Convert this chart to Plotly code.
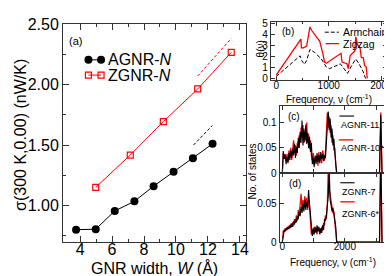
import plotly.graph_objects as go

# ---------------- Panel (a) data ----------------
agnr_w = [3.75, 4.98, 6.17, 7.40, 8.60, 9.85, 11.06, 12.29]
agnr_sigma = [0.800, 0.805, 0.955, 1.035, 1.160, 1.280, 1.390, 1.510]
zgnr_w = [4.98, 7.14, 9.21, 11.36, 13.46]
zgnr_sigma = [1.150, 1.417, 1.693, 1.963, 2.265]
agnr_fit_w = [11.10, 12.27]
agnr_fit_sigma = [1.50, 1.66]
zgnr_fit_w = [11.36, 13.46]
zgnr_fit_sigma = [2.07, 2.38]

# ---------------- Panel (b) data ----------------
zig_f = [0, 470, 480, 517, 580, 642, 673, 829, 891, 922, 953, 1202, 1234, 1252,
         1346, 1371, 1408, 1452, 1495, 1514, 1545, 1595, 1620, 1657, 1682, 1713, 1732]
zig_theta = [0.30, 3.60, 2.80, 2.80, 2.95, 4.70, 4.40, 3.40, 2.20, 1.50, 1.40, 2.20, 2.30, 1.50,
             1.35, 0.90, 2.10, 2.30, 2.50, 3.80, 3.10, 2.80, 1.90, 1.90, 1.20, 1.05, 0.0]
arm_f = [0, 455, 486, 536, 579, 642, 735, 860, 953, 1016, 1221, 1308, 1358, 1420,
         1514, 1576, 1657, 1700]
arm_theta = [0.18, 2.07, 1.64, 1.30, 1.64, 2.65, 2.37, 1.78, 1.05, 0.90, 1.34, 0.76, 0.47, 1.05,
             1.78, 1.34, 0.61, 0.0]

# ---------------- Panels (c), (d) data ----------------
dos_f = [0, 30, 60, 90, 120, 150, 180, 210, 240, 270, 300, 330, 360, 390, 420, 450, 480,
         510, 540, 570, 600, 630, 660, 690, 720, 750, 780, 810, 840, 870, 900, 930, 960,
         990, 1020, 1050, 1080, 1110, 1140, 1170, 1200, 1230, 1260, 1290, 1320, 1350,
         1380, 1410, 1440, 1470, 1500, 1530, 1560, 1590, 1620, 1650, 1680, 1710, 1740,
         3110, 3150, 3190]
agnr11 = [0.000, 0.044, 0.028, 0.038, 0.018, 0.032, 0.022, 0.040, 0.026, 0.045, 0.030,
          0.048, 0.035, 0.058, 0.030, 0.052, 0.040, 0.070, 0.050, 0.082, 0.060, 0.104,
          0.055, 0.088, 0.062, 0.096, 0.058, 0.080, 0.050, 0.072, 0.042, 0.060, 0.018,
          0.030, 0.012, 0.035, 0.018, 0.040, 0.022, 0.036, 0.020, 0.042, 0.028, 0.038,
          0.024, 0.036, 0.030, 0.062, 0.095, 0.122, 0.085, 0.108, 0.070, 0.088, 0.055,
          0.068, 0.040, 0.020, 0.000, 0.000, 0.115, 0.000]
agnr10 = [0.000, 0.040, 0.032, 0.030, 0.025, 0.038, 0.020, 0.045, 0.030, 0.050, 0.026,
          0.055, 0.065, 0.040, 0.055, 0.035, 0.060, 0.050, 0.075, 0.060, 0.090, 0.070,
          0.095, 0.060, 0.080, 0.065, 0.100, 0.060, 0.078, 0.048, 0.065, 0.035, 0.025,
          0.040, 0.018, 0.030, 0.025, 0.035, 0.015, 0.042, 0.025, 0.035, 0.020, 0.045,
          0.030, 0.025, 0.040, 0.070, 0.120, 0.090, 0.112, 0.080, 0.095, 0.060, 0.075,
          0.045, 0.050, 0.015, 0.000, 0.000, 0.120, 0.000]
zgnr7 = [0.000, 0.012, 0.016, 0.014, 0.018, 0.016, 0.020, 0.017, 0.022, 0.019, 0.024,
         0.020, 0.027, 0.023, 0.030, 0.026, 0.034, 0.030, 0.040, 0.034, 0.046, 0.038,
         0.050, 0.040, 0.055, 0.042, 0.052, 0.045, 0.068, 0.050, 0.035, 0.012, 0.008,
         0.018, 0.010, 0.020, 0.012, 0.022, 0.014, 0.020, 0.010, 0.018, 0.012, 0.022,
         0.016, 0.030, 0.028, 0.035, 0.045, 0.060, 0.095, 0.055, 0.048, 0.040, 0.045,
         0.035, 0.030, 0.020, 0.000, 0.000, 0.120, 0.000]
zgnr6 = [0.000, 0.015, 0.013, 0.018, 0.015, 0.020, 0.017, 0.021, 0.018, 0.024, 0.020,
         0.026, 0.022, 0.030, 0.025, 0.035, 0.028, 0.042, 0.035, 0.050, 0.063, 0.042,
         0.055, 0.045, 0.060, 0.048, 0.058, 0.042, 0.055, 0.046, 0.030, 0.010, 0.015,
         0.010, 0.020, 0.013, 0.018, 0.010, 0.020, 0.014, 0.018, 0.012, 0.020, 0.015,
         0.025, 0.022, 0.035, 0.030, 0.050, 0.095, 0.070, 0.060, 0.050, 0.045, 0.038,
         0.040, 0.028, 0.015, 0.000, 0.000, 0.120, 0.000]

RED = "#ff0000"
BLK = "#000000"
AX = "#333333"
FONT = "Liberation Sans"
W, H = 392, 276

fig = go.Figure()

# panel (a)
fig.add_trace(go.Scatter(x=agnr_w, y=agnr_sigma, mode="lines+markers", xaxis="x", yaxis="y",
                         line=dict(color=BLK, width=1), marker=dict(color=BLK, size=8, symbol="circle")))
fig.add_trace(go.Scatter(x=zgnr_w, y=zgnr_sigma, mode="lines+markers", xaxis="x", yaxis="y",
                         line=dict(color=RED, width=1),
                         marker=dict(color=RED, size=6, symbol="square-open", line=dict(width=1.2, color=RED))))
fig.add_trace(go.Scatter(x=agnr_fit_w, y=agnr_fit_sigma, mode="lines", xaxis="x", yaxis="y",
                         line=dict(color=BLK, width=1, dash="3px,2px")))
fig.add_trace(go.Scatter(x=zgnr_fit_w, y=zgnr_fit_sigma, mode="lines", xaxis="x", yaxis="y",
                         line=dict(color=RED, width=1, dash="3px,2px")))

# panel (b)
fig.add_trace(go.Scatter(x=arm_f, y=arm_theta, mode="lines", xaxis="x2", yaxis="y2",
                         line=dict(color=BLK, width=1, dash="4px,2px")))
fig.add_trace(go.Scatter(x=zig_f, y=zig_theta, mode="lines", xaxis="x2", yaxis="y2",
                         line=dict(color=RED, width=1.3)))

# panel (c)
fig.add_trace(go.Scatter(x=dos_f, y=agnr10, mode="lines", xaxis="x3", yaxis="y3",
                         line=dict(color=RED, width=1.3)))
fig.add_trace(go.Scatter(x=dos_f, y=agnr11, mode="lines", xaxis="x3", yaxis="y3",
                         line=dict(color=BLK, width=1.1)))
# panel (d)
fig.add_trace(go.Scatter(x=dos_f, y=zgnr6, mode="lines", xaxis="x4", yaxis="y4",
                         line=dict(color=RED, width=1.3)))
fig.add_trace(go.Scatter(x=dos_f, y=zgnr7, mode="lines", xaxis="x4", yaxis="y4",
                         line=dict(color=BLK, width=1.1)))

# legend samples in a pixel-coordinate overlay
fig.add_trace(go.Scatter(x=[81.7, 94.5], y=[46, 46], mode="lines+markers", xaxis="x5", yaxis="y5",
                         line=dict(color=BLK, width=1), marker=dict(color=BLK, size=8)))
fig.add_trace(go.Scatter(x=[81.7, 94.5], y=[62, 62], mode="lines+markers", xaxis="x5", yaxis="y5",
                         line=dict(color=RED, width=1),
                         marker=dict(color=RED, size=6, symbol="square-open", line=dict(width=1.2, color=RED))))
fig.add_trace(go.Scatter(x=[321.7, 336], y=[17, 17], mode="lines", xaxis="x5", yaxis="y5",
                         line=dict(color=BLK, width=1, dash="4px,2px")))
fig.add_trace(go.Scatter(x=[322.5, 336], y=[29, 29], mode="lines", xaxis="x5", yaxis="y5",
                         line=dict(color=RED, width=1.3)))
fig.add_trace(go.Scatter(x=[336.5, 351.5], y=[105, 105], mode="lines", xaxis="x5", yaxis="y5",
                         line=dict(color=BLK, width=1.1)))
fig.add_trace(go.Scatter(x=[336, 350.5], y=[130, 130], mode="lines", xaxis="x5", yaxis="y5",
                         line=dict(color=RED, width=1.3)))
fig.add_trace(go.Scatter(x=[337.5, 352], y=[175, 175], mode="lines", xaxis="x5", yaxis="y5",
                         line=dict(color=BLK, width=1.1)))
fig.add_trace(go.Scatter(x=[337.5, 352], y=[195, 195], mode="lines", xaxis="x5", yaxis="y5",
                         line=dict(color=RED, width=1.3)))


def dom(a, b, total):
    return [a / total, b / total]


def ydom(top, bottom):
    return [1 - bottom / H, 1 - top / H]


common = dict(showline=True, linecolor=AX, linewidth=1.3, mirror="allticks", ticks="inside",
              tickcolor=AX, showgrid=False, zeroline=False)

fig.update_layout(
    width=W, height=H, autosize=False, showlegend=False,
    margin=dict(l=0, r=0, t=0, b=0),
    paper_bgcolor="white", plot_bgcolor="rgba(0,0,0,0)",
    font=dict(family=FONT, color="black"),
    xaxis=dict(domain=dom(56, 241.5, W), range=[2.94, 14.37], dtick=2, tick0=0, ticklen=6,
               tickwidth=1.2, tickfont=dict(size=16), ticklabelstandoff=-7,
               minor=dict(dtick=1, tick0=0, ticks="inside", ticklen=3, tickcolor=AX),
               **common),
    yaxis=dict(domain=ydom(8.3, 237), range=[0.7, 2.5005], dtick=0.5, tick0=0, tickformat=".2f",
               ticklen=6, tickwidth=1.2, tickfont=dict(size=16),
               minor=dict(dtick=0.25, tick0=0, ticks="inside", ticklen=3, tickcolor=AX),
               **common),
    xaxis2=dict(domain=dom(267, 385, W), range=[-100, 2110], dtick=1000, tick0=0, ticklen=4,
                tickfont=dict(size=10), ticklabelstandoff=-4,
                minor=dict(dtick=500, ticks="inside", ticklen=2, tickcolor=AX),
                anchor="y2", **common),
    yaxis2=dict(domain=ydom(6, 67), range=[-0.12, 5.18], dtick=1, tick0=0, ticklen=4,
                tickfont=dict(size=10), anchor="x2", **common),
    xaxis3=dict(domain=dom(276, 383, W), range=[-82, 3290], dtick=1000, tick0=0,
                showticklabels=False, ticklen=4, anchor="y3", **common),
    yaxis3=dict(domain=ydom(94.3, 165), range=[0, 0.133], dtick=0.05, tick0=0, ticklen=4,
                tickfont=dict(size=10), anchor="x3", **common),
    xaxis4=dict(domain=dom(276, 383, W), range=[-82, 3290], dtick=2000, tick0=0,
                ticklen=4, tickfont=dict(size=10), ticklabelstandoff=-5,
                minor=dict(dtick=1000, tick0=0, ticks="inside", ticklen=4, tickcolor=AX),
                anchor="y4", **common),
    yaxis4=dict(domain=ydom(165, 237.3), range=[0, 0.09], dtick=0.05, tick0=0, ticklen=4,
                tickfont=dict(size=10), anchor="x4", **common),
    xaxis5=dict(domain=[0, 1], range=[0, W], visible=False, anchor="y5", fixedrange=True),
    yaxis5=dict(domain=[0, 1], range=[H, 0], visible=False, anchor="x5", fixedrange=True),
)


def ann(text, x, y, size, xanchor="center", angle=0):
    fig.add_annotation(text=text, x=x, y=y, xref="x5", yref="y5", showarrow=False,
                       xanchor=xanchor, yanchor="middle", textangle=angle,
                       font=dict(size=size, family=FONT, color="black"))


# titles
ann("σ(300 K,0.00) (nW/K)", 12, 125, 16, angle=-90)
ann("GNR width, <i>W</i> (Å)", 149, 264, 16)
ann("θ(ν)", 256, 35, 10, angle=-90)
ann("Frequency, ν (cm<sup>-1</sup>)", 326, 87, 10)
ann("No. of states", 248, 163, 10, angle=-90)
ann("Frequency, ν (cm<sup>-1</sup>)", 330, 258, 10)
# panel labels
ann("(a)", 60, 26, 11, xanchor="left")
ann("(b)", 276, 16, 10, xanchor="left")
ann("(c)", 282, 105, 10, xanchor="left")
ann("(d)", 283, 176, 10, xanchor="left")
# legend texts
ann("AGNR-<i>N</i>", 100, 46, 16, xanchor="left")
ann("ZGNR-<i>N</i>", 100, 62, 16, xanchor="left")
ann("Armchair", 338, 17, 10.5, xanchor="left")
ann("Zigzag", 338, 29, 10.5, xanchor="left")
ann("AGNR-11", 336.5, 114, 9, xanchor="left")
ann("AGNR-10*", 336.5, 138, 9, xanchor="left")
ann("ZGNR-7", 337.5, 185, 9, xanchor="left")
ann("ZGNR-6*", 337.5, 208, 9, xanchor="left")

fig.write_html("out.html")
